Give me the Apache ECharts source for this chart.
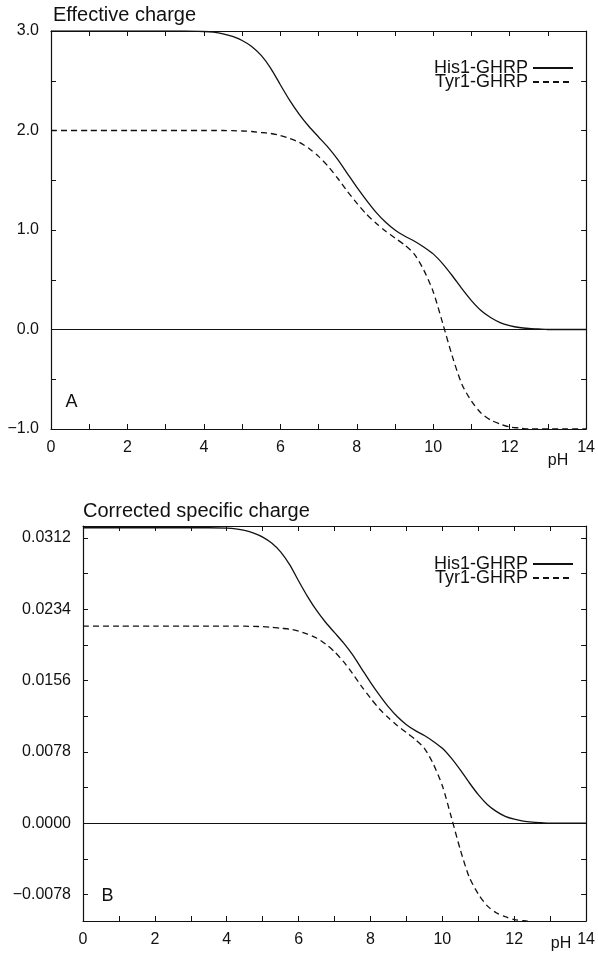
<!DOCTYPE html>
<html>
<head>
<meta charset="utf-8">
<script src="https://cdn.jsdelivr.net/npm/echarts@6/dist/echarts.min.js"></script>
<style>
  html, body { margin: 0; padding: 0; background: #fff; }
  #chart { width: 598px; height: 961px; }
</style>
</head>
<body>
<div id="chart"></div>
<script>
// pH sample points shared by all curves
const pH = [0, 1, 2, 3, 3.5, 4, 4.25, 4.5, 4.75, 5, 5.25, 5.5, 5.75, 6, 6.25, 6.5, 6.75,
  7, 7.25, 7.5, 7.75, 8, 8.25, 8.5, 8.75, 9, 9.25, 9.5, 9.75, 10, 10.25, 10.5, 10.75,
  11, 11.25, 11.5, 11.75, 12, 12.25, 12.5, 12.75, 13, 13.5, 14];

// Panel A: effective charge
const hisCharge = [3.0, 3.0, 3.0, 3.0, 3.0, 2.995, 2.988, 2.972, 2.945, 2.905, 2.845, 2.755, 2.625,
  2.46, 2.30, 2.16, 2.04, 1.935, 1.83, 1.71, 1.57, 1.43, 1.30, 1.18, 1.08, 1.00, 0.94, 0.89,
  0.83, 0.76, 0.66, 0.54, 0.41, 0.29, 0.19, 0.12, 0.07, 0.04, 0.02, 0.01, 0.005, 0, 0, 0];
const tyrCharge = [2, 2, 2, 2, 2, 2, 2, 2, 1.998, 1.995, 1.99, 1.98, 1.97, 1.95, 1.92, 1.88,
  1.82, 1.74, 1.64, 1.52, 1.39, 1.27, 1.16, 1.07, 0.99, 0.92, 0.85, 0.76, 0.60, 0.38, 0.06,
  -0.27, -0.55, -0.72, -0.84, -0.91, -0.95, -0.98, -0.99, -1.0, -1.0, -1.0, -1.0, -1.0];

// Panel B: corrected specific charge
const hisSpecific = [0.03231, 0.03231, 0.03231, 0.03231, 0.03231, 0.03226, 0.03218, 0.03201,
  0.03172, 0.03129, 0.03064, 0.02967, 0.02827, 0.02649, 0.02478, 0.02326, 0.02197, 0.02084,
  0.01971, 0.01842, 0.01691, 0.01540, 0.01400, 0.01271, 0.01163, 0.01077, 0.01012, 0.00959,
  0.00894, 0.00819, 0.00711, 0.00582, 0.00442, 0.00312, 0.00205, 0.00129, 0.00075, 0.00043,
  0.00022, 0.00011, 0.00005, 0, 0, 0];
const tyrSpecific = [0.02154, 0.02154, 0.02154, 0.02154, 0.02154, 0.02154, 0.02154, 0.02154,
  0.02152, 0.02149, 0.02143, 0.02132, 0.02122, 0.02100, 0.02068, 0.02025, 0.01960, 0.01874,
  0.01766, 0.01637, 0.01497, 0.01368, 0.01249, 0.01152, 0.01066, 0.00991, 0.00915, 0.00819,
  0.00646, 0.00409, 0.00065, -0.00291, -0.00592, -0.00775, -0.00905, -0.00980, -0.01023,
  -0.01055, -0.01066, -0.01077, -0.01077, -0.01077, -0.01077, -0.01077];

// Axis labels
const chargeTicks = [-1, 0, 1, 2, 3];
const specificTicks = [-0.0078, 0, 0.0078, 0.0156, 0.0234, 0.0312];
const seriesNames = ['His1-GHRP', 'Tyr1-GHRP'];

const FONT = '"Liberation Sans", Arial, Helvetica, sans-serif';
const INK = '#111';

const minus = s => s.replace('-', '\u2212');
const halfSteps = ticks => {
  const out = [];
  for (let i = 0; i < ticks.length; i++) {
    out.push(ticks[i]);
    if (i < ticks.length - 1) out.push((ticks[i] + ticks[i + 1]) / 2);
  }
  return out;
};
const specificTickMarks = halfSteps(specificTicks);

const tick = { show: true, inside: true, length: 5, lineStyle: { color: INK, width: 1 } };
const axisLine = { show: true, onZero: false, lineStyle: { color: INK, width: 1.2 } };
const labelBase = { color: INK, fontSize: 16, fontFamily: FONT };

function xAxes(gridIndex) {
  const common = {
    type: 'value', gridIndex, min: 0, max: 14, interval: 1,
    axisLine, axisTick: tick, splitLine: { show: false }
  };
  return [
    Object.assign({}, common, {
      position: 'bottom',
      axisLabel: Object.assign({}, labelBase, {
        margin: 11,
        formatter: v => (v % 2 === 0 ? String(v) : '')
      })
    }),
    Object.assign({}, common, { position: 'top', axisLabel: { show: false } })
  ];
}

function yAxes(gridIndex, min, max, labels, tickValues, fmt) {
  const common = {
    type: 'value', gridIndex, min, max,
    axisLine, splitLine: { show: false },
    axisTick: Object.assign({}, tick, { customValues: tickValues })
  };
  return [
    Object.assign({}, common, {
      position: 'left',
      axisLabel: Object.assign({}, labelBase, { margin: 12, customValues: labels, formatter: fmt })
    }),
    Object.assign({}, common, { position: 'right', axisLabel: { show: false } })
  ];
}

const zeroLine = {
  silent: true, symbol: 'none', label: { show: false },
  lineStyle: { color: INK, width: 1.2, type: 'solid' },
  data: [{ yAxis: 0 }]
};

function curve(name, xi, yi, values, dashed, withZero) {
  const s = {
    type: 'line', name, xAxisIndex: xi, yAxisIndex: yi,
    data: pH.map((x, i) => [x, values[i]]),
    symbol: 'none', showSymbol: false, smooth: 0.25,
    lineStyle: { color: INK, width: 1.3, type: dashed ? [6, 4] : 'solid' },
    itemStyle: { color: INK },
    emphasis: { disabled: true }
  };
  if (withZero) s.markLine = zeroLine;
  return s;
}

function legendAt(top) {
  return {
    data: seriesNames, orient: 'vertical', align: 'right',
    right: 24, top, padding: 0, itemWidth: 40, itemHeight: 10, itemGap: -4,
    selectedMode: false,
    itemStyle: { opacity: 0 },
    textStyle: { color: INK, fontSize: 18, lineHeight: 14, fontFamily: FONT }
  };
}

function text(str, x, y, size, align) {
  return {
    type: 'text', x, y, silent: true,
    style: {
      text: str, fill: INK, font: size + 'px ' + FONT,
      align: align || 'left', verticalAlign: 'middle'
    }
  };
}

const option = {
  animation: false,
  backgroundColor: '#fff',
  grid: [
    { left: 51, right: 9, top: 31, bottom: 532 },
    { left: 83, right: 7, top: 526, bottom: 40 }
  ],
  xAxis: xAxes(0).concat(xAxes(1)),
  yAxis: yAxes(0, -1, 3, chargeTicks, halfSteps(chargeTicks), v => minus(v.toFixed(1)))
    .concat(yAxes(1, -0.0107, 0.0325, specificTicks, specificTickMarks, v => minus(v.toFixed(4)))),
  legend: [legendAt(59), legendAt(555)],
  series: [
    curve(seriesNames[0], 0, 0, hisCharge, false, true),
    curve(seriesNames[1], 0, 0, tyrCharge, true, false),
    curve(seriesNames[0], 2, 2, hisSpecific, false, true),
    curve(seriesNames[1], 2, 2, tyrSpecific, true, false)
  ],
  graphic: [
    text('Effective charge', 53, 15, 20),
    text('Corrected specific charge', 83, 511, 20),
    text('A', 71.5, 402, 18, 'center'),
    text('B', 107.5, 896, 18, 'center'),
    text('pH', 558, 461, 16, 'center'),
    text('pH', 561, 944, 16, 'center')
  ]
};

const chart = echarts.init(document.getElementById('chart'), null, { renderer: 'canvas' });
chart.setOption(option);
</script>
</body>
</html>
